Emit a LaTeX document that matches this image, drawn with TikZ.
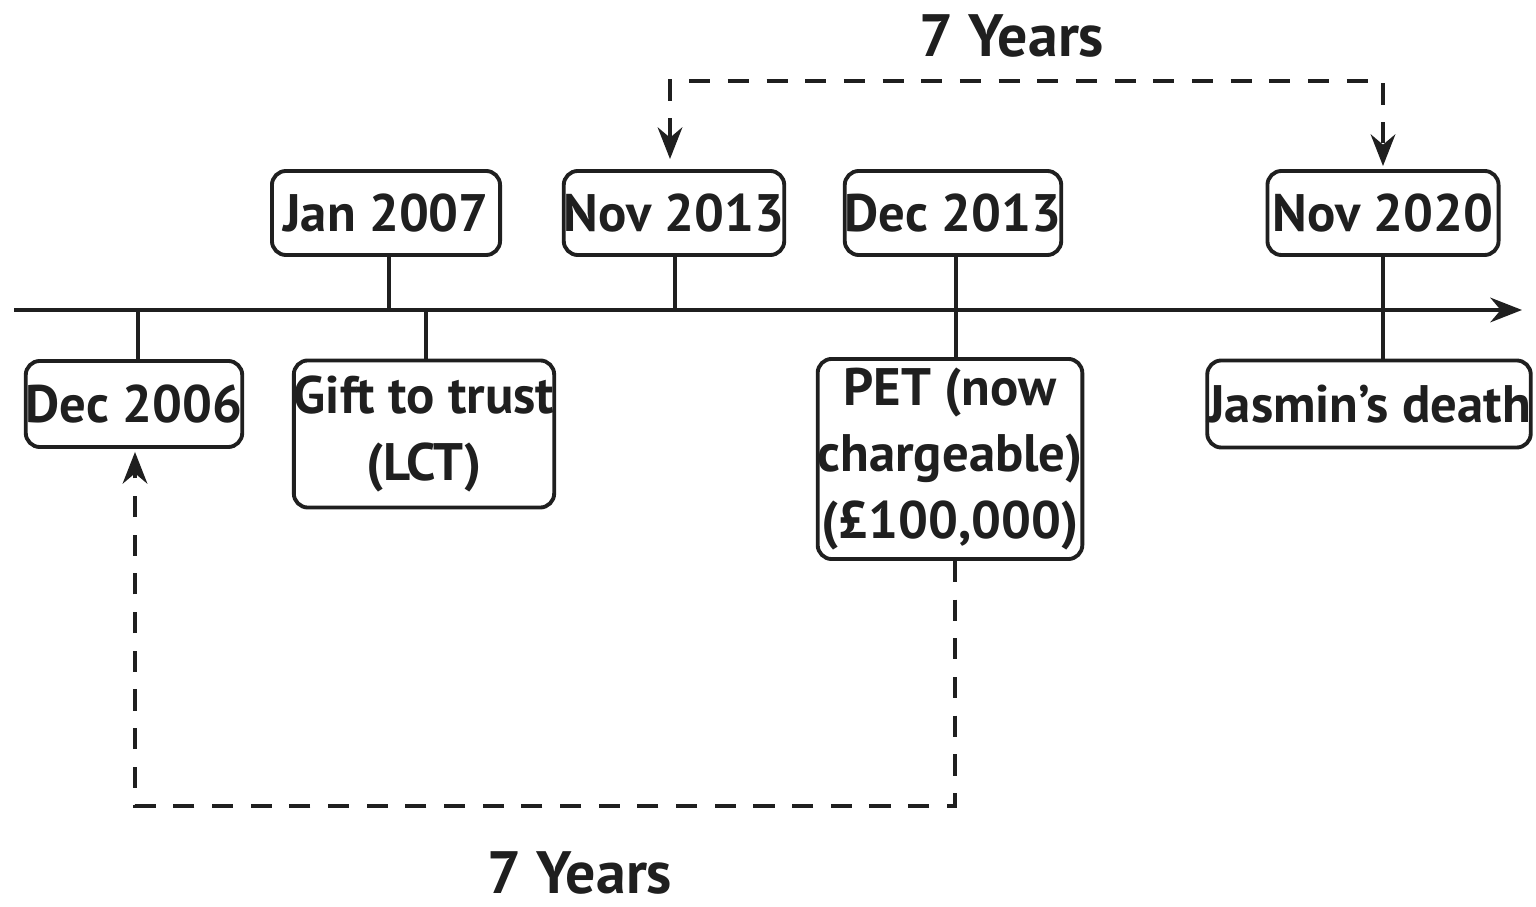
\documentclass[tikz,border=0pt]{standalone}
\usepackage{fontspec}
\setmainfont{PT Sans}
\usetikzlibrary{calc,positioning,arrows.meta}
\definecolor{inkline}{rgb}{0.12,0.12,0.12}

\begin{document}
\begin{tikzpicture}[x=0.01cm,y=-0.01cm,>={Stealth[length=9pt,width=7pt]},
    font=\fontsize{15}{19}\selectfont\bfseries]
    \tikzstyle{event}=[draw=inkline,line width=1.1pt,rounded corners=4pt,inner sep=0pt,align=center,text=inkline]
    \tikzstyle{tick}=[draw=inkline,line width=1.1pt]
    \tikzstyle{span}=[draw=inkline,line width=1.1pt,dash pattern=on 6pt off 5pt]
    \useasboundingbox (0,0) rectangle (1536,907);

    % Timeline axis
    \coordinate (start) at (14,310);
    \coordinate (end) at (1522,310);
    \draw[tick,->] (start) -- (end);

    % Dates above the axis
    \node (jan07)[event,minimum width=228\pgflinewidth,minimum width=2.28cm,minimum height=0.84cm] at (386,213) {Jan 2007};
    \node (nov13)[event,minimum width=2.18cm,minimum height=0.84cm] at (674,213) {Nov 2013};
    \node (dec13)[event,minimum width=2.13cm,minimum height=0.84cm] at (953,213) {Dec 2013};
    \node (nov20)[event,minimum width=2.31cm,minimum height=0.84cm] at (1383,213) {Nov 2020};

    % Events below the axis
    \node (dec06)[event,minimum width=2.04cm,minimum height=0.86cm] at (134,404) {Dec 2006};
    \node (gift)[event,minimum width=2.50cm,minimum height=1.47cm] at (424,434) {Gift to trust\\(LCT)};
    \node (pet)[event,minimum width=2.56cm,minimum height=2.00cm] at (950,459) {PET (now\\chargeable)\\(£100,000)};
    \node (death)[event,minimum width=2.93cm,minimum height=0.87cm] at (1369,404) {Jasmin’s death};

    % Ticks to the axis
    \draw[tick] (jan07.south -| 389,0) -- (389,310);
    \draw[tick] (nov13.south -| 675,0) -- (675,310);
    \draw[tick] (dec13.south -| 956,0) -- (pet.north -| 956,0);
    \draw[tick] (nov20.south) -- (death.north -| nov20.south);
    \draw[tick] (138,310) -- (dec06.north -| 138,0);
    \draw[tick] (426,310) -- (gift.north -| 426,0);

    % Seven year spans
    \coordinate (topl) at (670,81);
    \coordinate (topr) at (1383,81);
    \draw[span,<->] ($(nov13.north)+(-4,-10)$) -- (topl) -- (topr) -- ($(nov20.north)+(0,-3)$);
    \node (toplabel)[text=inkline,font=\fontsize{17}{20}\selectfont\bfseries] at (1012,36) {7 Years};

    \coordinate (botr) at (955,806);
    \coordinate (botl) at (135,806);
    \draw[span,->] (pet.south -| 955,0) -- (botr) -- (botl) -- ($(dec06.south)+(1,3)$);
    \node (botlabel)[text=inkline,font=\fontsize{17}{20}\selectfont\bfseries] at (580,873) {7 Years};
\end{tikzpicture}
\end{document}
